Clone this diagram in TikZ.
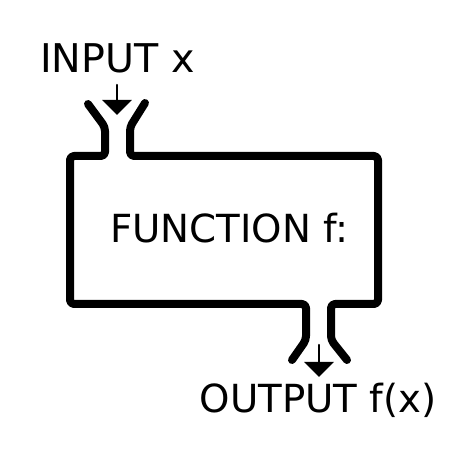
\documentclass[tikz,border=0pt]{standalone}
\usepackage{fontspec}
\setmainfont{DejaVu Sans}
\usetikzlibrary{arrows.meta}
\begin{document}
\begin{tikzpicture}[x=1pt, y=-1pt, line cap=round, line join=round]
  \useasboundingbox (0, 0) rectangle (469, 465);
  \tikzset{wall/.style={line width=8pt, rounded corners=4pt},
           feed/.style={line width=2.5pt, -{Triangle[width=29pt, length=15pt]}},
           label/.style={font=\fontsize{38.7}{46}\selectfont, anchor=base west, inner sep=0pt}}

  % labels
  \node[label, font=\fontsize{39.6}{47}\selectfont] (in) at (40, 72.5) {INPUT x};
  \node[label] (fn) at (110, 243) {FUNCTION f:};
  \node[label] (out) at (199.5, 412) {OUTPUT f(x)};

  % box with input and output tubes
  \draw[wall] (88, 104) -- (105, 127) -- (105, 156) -- (70, 156) -- (70, 304)
    -- (306, 304) -- (306, 340) -- (292, 360);
  \draw[wall] (145, 103) -- (130, 127) -- (130, 156) -- (378, 156) -- (378, 304)
    -- (331, 304) -- (331, 340) -- (347, 360);

  % arrows in and out
  \coordinate (inA) at (117, 85);
  \coordinate (inB) at (117, 115);
  \coordinate (outA) at (319, 345);
  \coordinate (outB) at (319, 377);
  \draw[feed] (inA) -- (inB);
  \draw[feed] (outA) -- (outB);
\end{tikzpicture}
\end{document}
